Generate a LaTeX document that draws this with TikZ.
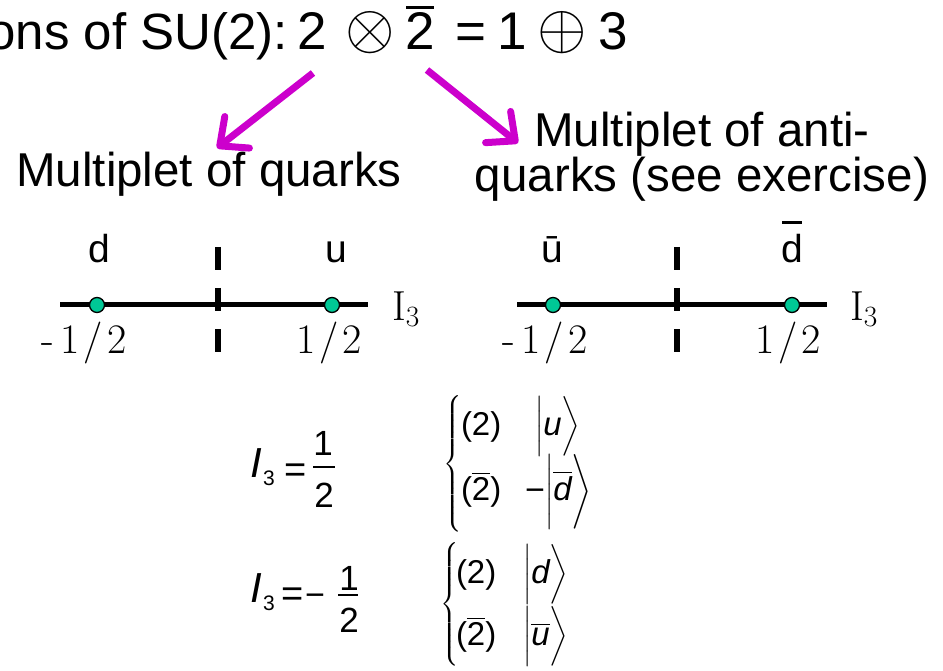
\RequirePackage{fix-cm}
\documentclass[tikz,border=0pt]{standalone}
\usepackage{fontspec}
\usepackage{amsmath}
\newfontfamily\sansf{Liberation Sans}
\usetikzlibrary{arrows.meta}
\definecolor{mag}{RGB}{204,0,204}
\definecolor{dotc}{RGB}{0,200,150}
\begin{document}
\begin{tikzpicture}[x=1pt,y=-1pt,
  every node/.style={inner sep=0pt, outer sep=0pt},
  title/.style={font=\sansf\fontsize{53}{60}\selectfont, anchor=base west},
  titlesym/.style={font=\fontsize{53}{60}\selectfont, anchor=center},
  lab/.style={font=\sansf\fontsize{47.5}{47}\selectfont, anchor=base},
  qlab/.style={font=\sansf\fontsize{39}{39}\selectfont, anchor=base},
  num/.style={font=\fontsize{42}{42}\selectfont, anchor=base west},
  axisline/.style={line width=5pt},
  tickline/.style={line width=6pt, dash pattern=on 23pt off 18pt},
  qdot/.style={circle, fill=dotc, draw=black, line width=1.3pt, minimum size=15pt},
  marrow/.style={mag, line width=7pt, -{Straight Barb[length=22pt,width=40pt,round]}},
  eqI/.style={font=\sansf\itshape\fontsize{42}{42}\selectfont, anchor=base west},
  eqsub/.style={font=\sansf\fontsize{21}{21}\selectfont, anchor=base west},
  eqd/.style={font=\sansf\fontsize{35}{35}\selectfont, anchor=base},
  eqminus/.style={font=\sansf\fontsize{34}{34}\selectfont, anchor=base},
  row/.style={font=\sansf\fontsize{33}{33}\selectfont, anchor=base west},
  brace/.style={font=\fontsize{22}{22}\selectfont, anchor=west},
]
\useasboundingbox (0,0) rectangle (943,671);

% title
\node[title, anchor=base east, font=\sansf\fontsize{51}{60}\selectfont] (t1) at (288,50) {ons of SU(2):};
\node[title] (t2) at (297,50) {2};
\node[titlesym] (t3) at (370,33) {\scalebox{1.2}{$\otimes$}};
\node[title] (t4) at (405,50) {\makebox[0pt][l]{\hspace{1pt}\raisebox{41pt}{\rule{28pt}{3pt}}}2};
\node[title] (t5) at (455,50) {=};
\node[title] (t6) at (497,50) {1};
\node[titlesym] (t7) at (562,33) {\scalebox{1.2}{$\oplus$}};
\node[title] (t8) at (598,50) {3};

% multiplet labels
\node[lab] (mq) at (209,187) {Multiplet of quarks};
\node[lab] (ma1) at (702,147) {Multiplet of anti-};
\node[lab] (ma2) at (702,192) {quarks (see exercise)};

% arrows
\coordinate (a1s) at (313,73);
\coordinate (a1e) at (217,148);
\coordinate (a2s) at (427,70);
\coordinate (a2e) at (518,143);
\draw[marrow] (a1s) -- (a1e);
\draw[marrow] (a2s) -- (a2e);

% left number line
\coordinate (l1a) at (60,305);
\coordinate (l1b) at (368,305);
\draw[axisline] (l1a) -- (l1b);
\coordinate (k1a) at (218,247);
\coordinate (k1b) at (218,355);
\draw[tickline] (k1a) -- (k1b);
\node[qdot] (pd) at (97,305) {};
\node[qdot] (pu) at (332,305) {};
\node[qlab] (ld) at (99,263) {d};
\node[qlab] (lu) at (336,263) {u};
\node[num] (li3) at (392,320) {I$_3$};
\node[num] (lm) at (41,353) {-\kern7pt1\kern4pt/\kern4pt2};
\node[num] (lp) at (296,353) {1\kern4pt/\kern4pt2};

% right number line
\coordinate (l2a) at (517,305);
\coordinate (l2b) at (827,305);
\draw[axisline] (l2a) -- (l2b);
\coordinate (k2a) at (677,247);
\coordinate (k2b) at (677,355);
\draw[tickline] (k2a) -- (k2b);
\node[qdot] (pub) at (553,305) {};
\node[qdot] (pdb) at (792,305) {};
\node[qlab] (lub) at (552,263) {\=u};
\node[qlab] (ldb) at (792,263) {\makebox[0pt][l]{\hspace{1pt}\raisebox{39pt}{\rule{20pt}{2.5pt}}}d};
\node[num] (ri3) at (850,320) {I$_3$};
\node[num] (rm) at (502,353) {-\kern7pt1\kern4pt/\kern4pt2};
\node[num] (rp) at (755,353) {1\kern4pt/\kern4pt2};

% equation I3 = 1/2
\node[eqI] (e1i) at (250,477) {I};
\node[eqsub] (e1s) at (263,485) {3};
\node[font=\sansf\fontsize{38}{38}\selectfont, anchor=base] (e1eq) at (296,482) {=};
\node[eqd] (e1n) at (323,455) {1};
\node[eqd] (e1d) at (324,507) {2};
\coordinate (f1a) at (313,467);
\coordinate (f1b) at (335,467);
\draw[line width=1.6pt] (f1a) -- (f1b);

\node[brace] (b1) at (443,464) {$\left\{\vrule height 62pt depth 62pt width 0pt\right.$};
\node[row] (r1a) at (461,435) {(2)};
\node[row] (r1b) at (535,435) {$\left|\vrule height 28pt depth 17pt width 0pt\mbox{\itshape u}\right\rangle$};
\node[row] (r2a) at (461,500) {($\overline{\mbox{2}}$)};
\node[eqminus] (r2m) at (535,501) {−};
\node[row] (r2b) at (545,500) {$\left|\vrule height 37pt depth 25pt width 0pt\overline{\mbox{\itshape d}}\right\rangle$};

% equation I3 = -1/2
\node[eqI] (e2i) at (250,602) {I};
\node[eqsub] (e2s) at (263,610) {3};
\node[font=\sansf\fontsize{38}{38}\selectfont, anchor=base] (e2eq) at (293,606) {=};
\node[eqminus] (e2mi) at (315,606) {−};
\node[eqd] (e2n) at (349,590) {1};
\node[eqd] (e2d) at (349,632) {2};
\coordinate (f2a) at (338,595);
\coordinate (f2b) at (358,595);
\draw[line width=1.6pt] (f2a) -- (f2b);

\node[brace] (b2) at (440,605) {$\left\{\vrule height 58pt depth 58pt width 0pt\right.$};
\node[row] (r3a) at (456,583) {(2)};
\node[row] (r3b) at (523,583) {$\left|\vrule height 28pt depth 17pt width 0pt\mbox{\itshape d}\right\rangle$};
\node[row] (r4a) at (456,645) {($\overline{\mbox{2}}$)};
\node[row] (r4b) at (523,645) {$\left|\vrule height 28pt depth 17pt width 0pt\overline{\mbox{\itshape u}}\right\rangle$};
\end{tikzpicture}
\end{document}
